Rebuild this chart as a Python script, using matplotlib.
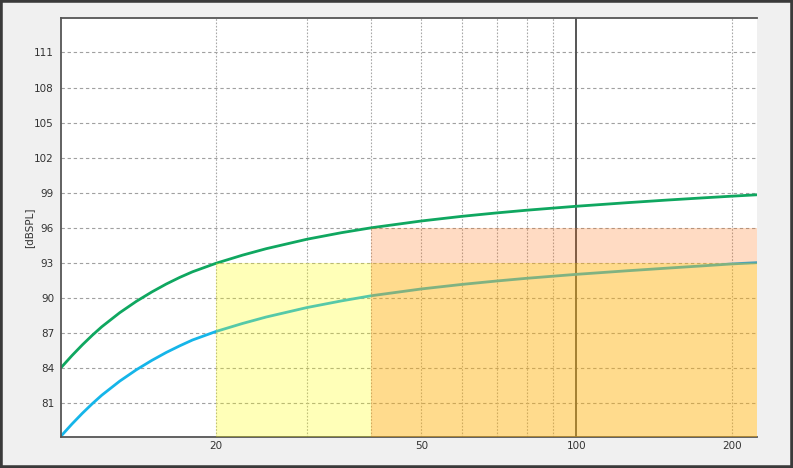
#!/usr/bin/env python3
"""
plot.py

Two SPL curves over a log frequency axis, with shaded zones.
Output: out.png (793x468)
"""

from __future__ import annotations

import matplotlib
matplotlib.use("Agg")
import matplotlib.pyplot as plt
from matplotlib.patches import Rectangle

OUT_PATH = "out.png"

x_values = [10, 10.5, 11, 11.5, 12, 13, 14, 15, 16, 17, 18, 20, 22.5, 25, 30,
            35, 40, 50, 60, 70, 80, 90, 100, 125, 150, 175, 200, 224]

upper_curve = [84.05, 85.08, 86.0, 86.82, 87.55, 88.75, 89.72, 90.52, 91.2,
               91.77, 92.25, 92.98, 93.67, 94.22, 95.03, 95.59, 96.01, 96.59,
               96.99, 97.28, 97.51, 97.69, 97.85, 98.15, 98.38, 98.56, 98.71, 98.83]

lower_curve = [78.2, 79.23, 80.15, 80.97, 81.7, 82.9, 83.87, 84.67, 85.35,
               85.92, 86.42, 87.15, 87.83, 88.38, 89.19, 89.76, 90.2, 90.78,
               91.17, 91.46, 91.69, 91.87, 92.03, 92.33, 92.56, 92.75, 92.92, 93.03]

y_ticks = [81, 84, 87, 90, 93, 96, 99, 102, 105, 108, 111]
x_ticks = [20, 50, 100, 200]
x_gridlines = [20, 30, 40, 50, 60, 70, 80, 90, 200]
x_marker = 100

# shaded zones: (x start, x end, y top)
yellow_zone = (20, 224, 93)
peach_zone = (40, 224, 96)

X_LIM = (10, 224)
Y_LIM = (78.1, 113.9)

plt.rcParams["font.family"] = ["DejaVu Sans"]


def draw_chart() -> None:
    fig = plt.figure(figsize=(7.93, 4.68), dpi=100)
    fig.patch.set_facecolor("#f0f0f0")
    fig.patches.append(Rectangle((0, 0), 1, 1, transform=fig.transFigure,
                                 fill=False, edgecolor="#3a3a3a", linewidth=4))

    ax = fig.add_axes([0.0769, 0.0656, 0.8777, 0.8949])
    ax.set_facecolor("white")
    ax.set_xscale("log")
    ax.set_xlim(*X_LIM)
    ax.set_ylim(*Y_LIM)

    for y in y_ticks:
        ax.axhline(y, color="#a0a0a0", linestyle=(0, (3, 2.5)), linewidth=0.8, zorder=1)
    for x in x_gridlines:
        ax.axvline(x, color="#a8a8a8", linestyle=(0, (1.5, 1.5)), linewidth=0.8, zorder=1)
    ax.axvline(x_marker, color="#555555", linewidth=1.4, zorder=1)

    ax.plot(x_values, upper_curve, color="#0fa760", linewidth=2, zorder=2)
    ax.plot(x_values, lower_curve, color="#15b5e9", linewidth=2, zorder=2)

    x0, x1, top = yellow_zone
    ax.fill_between([x0, x1], Y_LIM[0], top, color="#ffff00", alpha=0.28,
                    linewidth=0, zorder=3)
    x0, x1, top = peach_zone
    ax.fill_between([x0, x1], Y_LIM[0], top, color="#ff7010", alpha=0.25,
                    linewidth=0, zorder=3)

    ax.set_xticks(x_ticks)
    ax.set_xticklabels([str(v) for v in x_ticks])
    ax.xaxis.set_minor_locator(matplotlib.ticker.NullLocator())
    ax.set_yticks(y_ticks)
    ax.tick_params(axis="both", length=0, labelsize=7.5, colors="#333333")
    ax.tick_params(axis="x", pad=3)
    ax.tick_params(axis="y", pad=5)
    ax.set_ylabel("[dBSPL]", fontsize=7.5, color="#333333")
    ax.yaxis.set_label_coords(-0.038, 0.5)

    for side in ["left", "top", "bottom"]:
        ax.spines[side].set_color("#555555")
        ax.spines[side].set_linewidth(1.3)
    ax.spines["right"].set_visible(False)

    fig.savefig(OUT_PATH, dpi=100, facecolor=fig.get_facecolor())
    plt.close(fig)


def main() -> None:
    draw_chart()
    print(f"Created: {OUT_PATH}")


if __name__ == "__main__":
    main()
